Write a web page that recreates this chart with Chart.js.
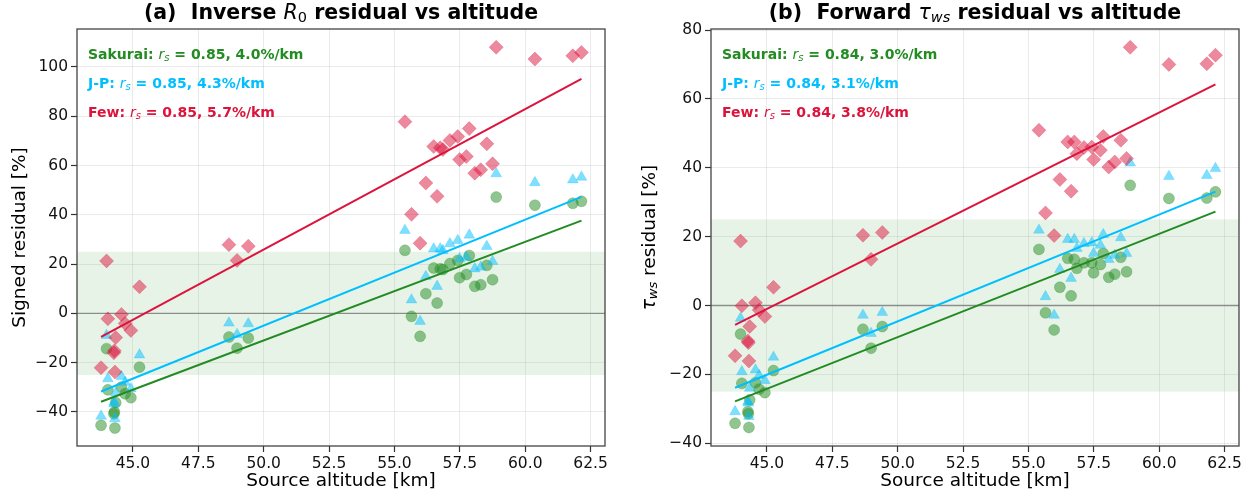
<!DOCTYPE html>
<html>
<head>
<meta charset="utf-8">
<script src="https://cdn.jsdelivr.net/npm/chart.js@4.4.1/dist/chart.umd.min.js"></script>
<style>
  html, body { margin: 0; padding: 0; background: #fff; }
  #wrap { position: relative; width: 1250px; height: 494px; }
  .panel { position: absolute; top: 0; width: 625px; height: 494px; }
</style>
</head>
<body>
<div id="wrap">
  <div class="panel" style="left:0"><canvas id="chartA" width="625" height="494"></canvas></div>
  <div class="panel" style="left:625px"><canvas id="chartB" width="625" height="494"></canvas></div>
</div>
<script>
// source altitude of each event (km), shared by both panels
const altitude = [43.78, 43.99, 44.04, 44.27, 44.29, 44.31, 44.34, 44.56, 44.70, 44.92, 45.25,
  48.67, 48.98, 49.41,
  55.40, 55.65, 55.98, 56.20, 56.50, 56.63, 56.75, 56.85, 57.12, 57.42, 57.49, 57.75, 57.86,
  58.07, 58.30, 58.53, 58.75, 58.89, 60.37, 61.82, 62.15];

// (a) inverse R0 residual [%]
const invSakurai = [-45.4, -14.3, -31.0, -40.7, -40.0, -46.5, -36.2, -29.9, -32.6, -34.2, -21.8,
  -9.6, -14.1, -10.0,
  25.6, -1.2, -9.3, 8.0, 18.4, 4.2, 18.1, 17.8, 20.2, 21.5, 14.5, 15.8, 23.5,
  11.0, 11.6, 19.5, 13.7, 47.2, 43.9, 44.7, 45.5];
const invJP = [-41.7, -8.9, -26.5, -36.6, -36.0, -42.7, -32.3, -25.6, -27.9, -30.6, -16.8,
  -3.9, -8.5, -4.2,
  33.7, 5.5, -3.2, 15.0, 26.2, 11.0, 26.2, 25.5, 28.3, 29.6, 22.2, 22.8, 31.8,
  18.1, 18.8, 27.2, 21.1, 56.7, 53.1, 54.2, 55.3];
const invFew = [-22.0, 21.3, -2.2, -16.0, -15.2, -23.8, -9.8, -0.4, -4.1, -6.9, 10.8,
  27.9, 21.5, 27.3,
  77.8, 40.2, 28.5, 52.9, 67.7, 47.5, 67.2, 66.5, 70.2, 71.8, 62.4, 63.7, 75.0,
  56.9, 58.3, 68.8, 60.7, 108.0, 103.2, 104.5, 105.9];

// (b) forward tau_ws residual [%]
const fwdSakurai = [-34.2, -8.3, -22.6, -30.8, -31.4, -35.4, -27.4, -22.4, -24.3, -25.3, -18.9,
  -6.9, -12.4, -6.1,
  16.3, -2.1, -7.1, 5.3, 13.7, 2.8, 13.4, 10.8, 12.4, 12.4, 9.5, 11.9, 15.1,
  8.2, 9.1, 14.0, 9.8, 34.9, 31.1, 31.2, 33.0];
const fwdJP = [-30.8, -3.7, -19.2, -27.9, -28.3, -32.2, -24.0, -18.7, -20.3, -21.8, -15.0,
  -2.8, -8.1, -2.0,
  21.9, 2.6, -2.8, 10.5, 19.2, 7.9, 19.2, 16.6, 18.0, 18.2, 15.1, 17.5, 20.6,
  13.4, 14.6, 19.7, 15.1, 41.4, 37.5, 37.8, 39.8];
const fwdFew = [-14.6, 18.7, -0.1, -10.3, -10.8, -16.1, -6.1, 0.8, -1.3, -3.2, 5.3,
  20.4, 13.4, 21.2,
  50.9, 26.9, 20.3, 36.6, 47.5, 33.2, 47.5, 44.1, 45.9, 46.0, 42.4, 45.1, 49.1,
  40.2, 41.7, 48.0, 42.7, 75.0, 70.0, 70.2, 72.7];

// fit stats per model: Sakurai, J-P, Few
const modelNames = ['Sakurai', 'J-P', 'Few'];
const invRs = [0.85, 0.85, 0.85];
const invSlope = [4.0, 4.3, 5.7];      // %/km
const invMidValue = [0.9, 7.8, 42.8];  // fit value at the middle of the altitude span
const fwdRs = [0.84, 0.84, 0.84];
const fwdSlope = [3.0, 3.1, 3.8];
const fwdMidValue = [-0.3, 4.6, 29.3];

// axis ticks
const altTicks = [45.0, 47.5, 50.0, 52.5, 55.0, 57.5, 60.0, 62.5];
const invTicks = [-40, -20, 0, 20, 40, 60, 80, 100];
const fwdTicks = [-40, -20, 0, 20, 40, 60, 80];

const FONT = "'DejaVu Sans', 'Liberation Sans', sans-serif";
const colors = ['#228B22', '#00BFFF', '#DC143C'];
const fills = ['rgba(34,139,34,0.5)', 'rgba(0,191,255,0.5)', 'rgba(220,20,60,0.5)'];
const shapes = ['circle', 'triangle', 'rectRot'];
const radii = [5.5, 6.2, 7];

const fmtNum = v => (v < 0 ? '\u2212' : '') + Math.abs(v);

// draw a row of text pieces with their own fonts and vertical shifts
function drawRuns(ctx, runs, x, y, align) {
  let total = 0;
  runs.forEach(r => { ctx.font = r[1]; total += ctx.measureText(r[0]).width; });
  let cx = align === 'center' ? x - total / 2 : x;
  runs.forEach(r => {
    ctx.font = r[1];
    ctx.fillText(r[0], cx, y + (r[2] || 0));
    cx += ctx.measureText(r[0]).width;
  });
}

function makePanel(canvasId, p) {
  const lo = Math.min(...altitude), hi = Math.max(...altitude);
  const mid = (lo + hi) / 2;
  const datasets = [];
  const series = [p.sak, p.jp, p.few];
  // fit lines on top
  for (let k = 2; k >= 0; k--) {
    datasets.push({
      type: 'line',
      data: [{ x: lo, y: p.mid[k] + p.slope[k] * (lo - mid) }, { x: hi, y: p.mid[k] + p.slope[k] * (hi - mid) }],
      borderColor: colors[k], borderWidth: 2, pointRadius: 0, fill: false, order: 0
    });
  }
  for (let k = 0; k < 3; k++) {
    datasets.push({
      type: 'scatter',
      data: altitude.map((a, i) => ({ x: a, y: series[k][i] })),
      pointStyle: shapes[k], pointRadius: radii[k],
      backgroundColor: fills[k], borderColor: fills[k], borderWidth: 0.5,
      order: 3 - k
    });
  }

  const deco = {
    id: 'deco',
    beforeDatasetsDraw(chart) {
      const { ctx, chartArea: a, scales: { y } } = chart;
      ctx.save();
      // +-25 % band and zero line
      ctx.fillStyle = 'rgba(34,139,34,0.1)';
      const t = y.getPixelForValue(25), b = y.getPixelForValue(-25);
      ctx.fillRect(a.left, t, a.right - a.left, b - t);
      ctx.strokeStyle = 'rgba(120,120,120,0.8)';
      ctx.lineWidth = 1.3;
      const z = y.getPixelForValue(0);
      ctx.beginPath(); ctx.moveTo(a.left, z); ctx.lineTo(a.right, z); ctx.stroke();
      ctx.restore();
    },
    afterDraw(chart) {
      const { ctx, chartArea: a } = chart;
      ctx.save();
      ctx.strokeStyle = '#444';
      ctx.lineWidth = 1.3;
      ctx.strokeRect(a.left, a.top, a.right - a.left, a.bottom - a.top);

      ctx.fillStyle = '#000';
      ctx.textBaseline = 'middle';
      const cx = (a.left + a.right) / 2;
      drawRuns(ctx, p.title, cx, 14, 'center');
      drawRuns(ctx, [['Source altitude [km]', `18.5px ${FONT}`]], cx, 481, 'center');

      ctx.save();
      ctx.translate(p.yLabelX, (a.top + a.bottom) / 2);
      ctx.rotate(-Math.PI / 2);
      drawRuns(ctx, p.yLabel, 0, 0, 'center');
      ctx.restore();

      // per-model correlation and slope
      for (let k = 0; k < 3; k++) {
        ctx.fillStyle = colors[k];
        drawRuns(ctx, [
          [modelNames[k] + ': ', `bold 14px ${FONT}`],
          ['r', `italic 14px ${FONT}`],
          ['s', `italic 10px ${FONT}`, 3],
          [` = ${p.rs[k].toFixed(2)}, ${p.slope[k].toFixed(1)}%/km`, `bold 14px ${FONT}`]
        ], a.left + 11, a.top + 26 + k * 29, 'left');
      }
      ctx.restore();
    }
  };

  return new Chart(document.getElementById(canvasId), {
    data: { datasets },
    options: {
      responsive: false,
      animation: false,
      events: [],
      layout: { padding: { left: 0, right: p.padRight, top: 29, bottom: 0 } },
      plugins: { legend: { display: false }, tooltip: { enabled: false } },
      scales: {
        x: {
          type: 'linear', min: 42.86, max: 63.05,
          afterBuildTicks: s => { s.ticks = altTicks.map(v => ({ value: v })); },
          afterFit: s => { s.height = 48; },
          ticks: { font: { family: FONT, size: 15.5 }, color: '#111', padding: 3, maxRotation: 0,
                   callback: v => v.toFixed(1) },
          grid: { color: 'rgba(0,0,0,0.08)', tickColor: '#333', tickLength: 6, tickWidth: 1.2 },
          border: { display: false }
        },
        y: {
          type: 'linear', min: p.yMin, max: p.yMax,
          afterBuildTicks: s => { s.ticks = p.yTicks.map(v => ({ value: v })); },
          afterFit: s => { s.width = p.yWidth; },
          ticks: { font: { family: FONT, size: 15.5 }, color: '#111', padding: 3, callback: fmtNum },
          grid: { color: 'rgba(0,0,0,0.08)', tickColor: '#333', tickLength: 6, tickWidth: 1.2 },
          border: { display: false }
        }
      }
    },
    plugins: [deco]
  });
}

makePanel('chartA', {
  sak: invSakurai, jp: invJP, few: invFew,
  rs: invRs, slope: invSlope, mid: invMidValue,
  yMin: -53.8, yMax: 115.4, yTicks: invTicks, yWidth: 77, padRight: 20, yLabelX: 20,
  title: [['(a)  Inverse ', `bold 20.5px ${FONT}`], ['R', `italic 20.5px ${FONT}`],
          ['0', `14.5px ${FONT}`, 4], [' residual vs altitude', `bold 20.5px ${FONT}`]],
  yLabel: [['Signed residual [%]', `18.5px ${FONT}`]]
});

makePanel('chartB', {
  sak: fwdSakurai, jp: fwdJP, few: fwdFew,
  rs: fwdRs, slope: fwdSlope, mid: fwdMidValue,
  yMin: -40.8, yMax: 80.3, yTicks: fwdTicks, yWidth: 86, padRight: 11, yLabelX: 25,
  title: [['(b)  Forward ', `bold 20.5px ${FONT}`], ['\u03c4', `italic 20.5px ${FONT}`],
          ['ws', `italic 14.5px ${FONT}`, 4], [' residual vs altitude', `bold 20.5px ${FONT}`]],
  yLabel: [['\u03c4', `italic 18.5px ${FONT}`], ['ws', `italic 13px ${FONT}`, 4],
           [' residual [%]', `18.5px ${FONT}`]]
});
</script>
</body>
</html>
